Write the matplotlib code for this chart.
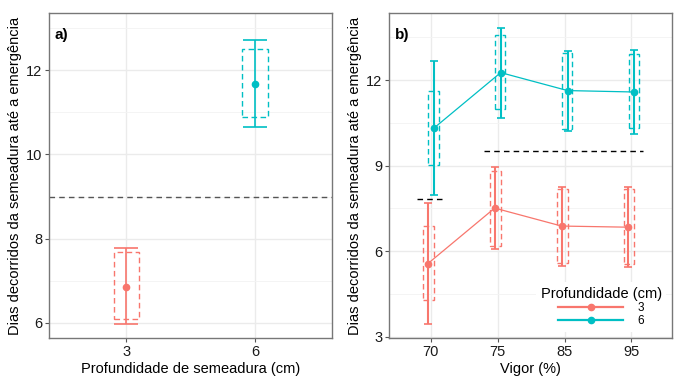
import matplotlib
matplotlib.use("Agg")
import matplotlib.pyplot as plt
from matplotlib.lines import Line2D
from matplotlib.ticker import MultipleLocator
import numpy as np

plt.rcParams['font.family'] = ['Liberation Sans', 'DejaVu Sans']

RED = '#F8766D'
CYAN = '#00BFC4'

# ---- Panel a data ----
depth_labels = ['3', '6']
a_mean = [6.86, 11.68]
a_ci_lo = [5.97, 10.65]
a_ci_hi = [7.77, 12.72]
a_box_lo = [6.08, 10.90]
a_box_hi = [7.68, 12.50]
a_ref = 9.0

# ---- Panel b data ----
vigor_labels = ['70', '75', '85', '95']
b3_mean = [5.56, 7.51, 6.88, 6.84]
b3_ci_lo = [3.45, 6.07, 5.49, 5.43]
b3_ci_hi = [7.69, 8.94, 8.26, 8.25]
b3_box_lo = [4.27, 6.19, 5.58, 5.55]
b3_box_hi = [6.88, 8.80, 8.19, 8.17]

b6_mean = [10.31, 12.26, 11.63, 11.58]
b6_ci_lo = [7.97, 10.67, 10.21, 10.10]
b6_ci_hi = [12.67, 13.81, 13.03, 13.07]
b6_box_lo = [9.02, 10.97, 10.28, 10.31]
b6_box_hi = [11.63, 13.58, 12.96, 12.91]

sig_y = [7.82, 9.50]
sig_xmin = [0.80, 1.80]
sig_xmax = [1.20, 4.17]

ylabel = 'Dias decorridos da semeadura até a emergência'

fig = plt.figure(figsize=(6.82, 3.91), dpi=100)
W, H = 682, 391
axa = fig.add_axes([49.3 / W, (H - 338) / H, 283 / W, 325 / H])
axb = fig.add_axes([389.3 / W, (H - 338) / H, 283 / W, 325 / H])

def style(ax):
    ax.set_facecolor('white')
    for s in ax.spines.values():
        s.set_color('#777777')
        s.set_linewidth(1.0)
    ax.grid(which='major', color='#EBEBEB', linewidth=1.0, zorder=0)
    ax.grid(which='minor', axis='y', color='#F3F3F3', linewidth=0.6, zorder=0)
    ax.set_axisbelow(True)
    ax.tick_params(which='major', length=3, color='#555555', labelsize=10.5,
                   labelcolor='#1a1a1a', pad=2)
    ax.tick_params(which='minor', length=0)
    ax.tick_params(axis='x', which='minor', bottom=False)

# ---- Panel a ----
style(axa)
xa = np.arange(1, len(depth_labels) + 1)
cols_a = [RED, CYAN]
for i in range(len(xa)):
    m = a_mean[i]
    axa.bar(xa[i], a_box_hi[i] - a_box_lo[i], bottom=a_box_lo[i], width=0.2,
            fill=False, edgecolor=cols_a[i], linestyle=(0, (4, 2.5)), linewidth=1.0, zorder=3)
    axa.errorbar(xa[i], m, yerr=[[m - a_ci_lo[i]], [a_ci_hi[i] - m]], color=cols_a[i],
                 capsize=8.6, capthick=1.2, elinewidth=1.2, fmt='o', markersize=4.5, zorder=4)
axa.axhline(a_ref, color='#555555', linestyle=(0, (4, 3)), linewidth=1.0, zorder=2)
axa.set_xlim(0.4, 2.6)
axa.set_ylim(5.64, 13.36)
axa.set_xticks(xa)
axa.set_xticklabels(depth_labels)
axa.yaxis.set_major_locator(MultipleLocator(2))
axa.yaxis.set_minor_locator(MultipleLocator(1))
axa.set_xlabel('Profundidade de semeadura (cm)', fontsize=10.5, labelpad=2)
axa.set_ylabel(ylabel, fontsize=10.5, labelpad=3)
axa.text(0.02, 0.955, 'a)', transform=axa.transAxes, fontsize=11, fontweight='bold',
         va='top', ha='left')

# ---- Panel b ----
style(axb)
xb = np.arange(1, len(vigor_labels) + 1)
groups = [
    (RED, -0.045, b3_mean, b3_ci_lo, b3_ci_hi, b3_box_lo, b3_box_hi),
    (CYAN, 0.045, b6_mean, b6_ci_lo, b6_ci_hi, b6_box_lo, b6_box_hi),
]
for col, off, mean, lo, hi, blo, bhi in groups:
    x = xb + off
    mean = np.array(mean); lo = np.array(lo); hi = np.array(hi)
    blo = np.array(blo); bhi = np.array(bhi)
    axb.bar(x - off * 0.2, bhi - blo, bottom=blo, width=0.16, fill=False, edgecolor=col,
            linestyle=(0, (4, 2.5)), linewidth=1.0, zorder=3)
    axb.errorbar(x, mean, yerr=[mean - lo, hi - mean], color=col, capsize=2.6,
                 capthick=1.2, elinewidth=1.5, fmt='none', zorder=4)
    axb.plot(x, mean, color=col, linewidth=0.9, marker='o', markersize=4.5, zorder=5)
axb.hlines(sig_y, sig_xmin, sig_xmax, colors='black', linestyles=(0, (4, 3)),
           linewidth=1.0, zorder=2)
axb.set_xlim(0.38, 4.61)
axb.set_ylim(2.955, 14.35)
axb.set_xticks(xb)
axb.set_xticklabels(vigor_labels)
axb.yaxis.set_major_locator(MultipleLocator(3))
axb.yaxis.set_minor_locator(MultipleLocator(1.5))
axb.set_xlabel('Vigor (%)', fontsize=10.5, labelpad=2)
axb.set_ylabel(ylabel, fontsize=10.5, labelpad=3)
axb.text(0.02, 0.955, 'b)', transform=axb.transAxes, fontsize=11, fontweight='bold',
         va='top', ha='left')

handles = [Line2D([0], [0], color=RED, lw=1.6, marker='o', markersize=4.5),
           Line2D([0], [0], color=CYAN, lw=1.6, marker='o', markersize=4.5)]
leg = axb.legend(handles, ['3', '6'], title='Profundidade (cm)', loc='lower right',
                 bbox_to_anchor=(1.0, 0.0), frameon=True, facecolor='white',
                 edgecolor='none', framealpha=1, fontsize=8.5, title_fontsize=10.5,
                 handlelength=5.5, labelspacing=0.1, borderpad=0.4,
                 handletextpad=1.2, alignment='center')
leg.set_zorder(10)

fig.savefig('out.png', dpi=100)
